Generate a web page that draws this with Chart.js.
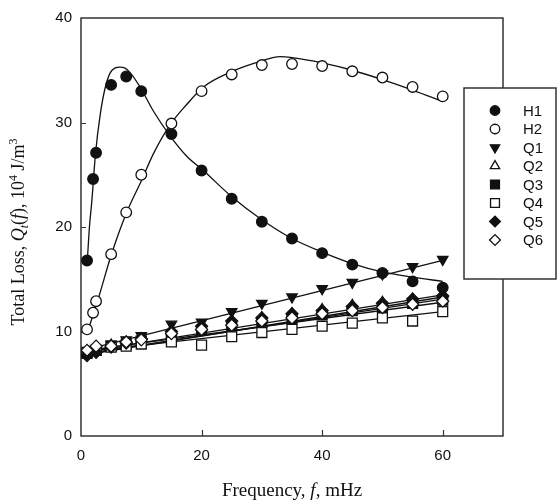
<!DOCTYPE html>
<html><head><meta charset="utf-8">
<script src="https://cdn.jsdelivr.net/npm/chart.js@4.4.1/dist/chart.umd.min.js"></script>
<style>html,body{margin:0;padding:0;background:#fff;}#wrap{width:560px;height:504px;}</style>
</head><body><div id="wrap"><canvas id="c" width="560" height="504"></canvas></div>
<script>
// ---- data ----
const seriesNames = ['H1', 'H2', 'Q1', 'Q2', 'Q3', 'Q4', 'Q5', 'Q6'];
const xTicks = [0, 20, 40, 60];
const yTicks = [0, 10, 20, 30, 40];

const hFreq = [1, 2, 2.5, 5, 7.5, 10, 15, 20, 25, 30, 35, 40, 45, 50, 55, 60];
const h1 = [16.8, 24.6, 27.1, 33.6, 34.4, 33.0, 28.9, 25.4, 22.7, 20.5, 18.9, 17.5, 16.4, 15.6, 14.8, 14.2];
const h2 = [10.2, 11.8, 12.9, 17.4, 21.4, 25.0, 29.9, 33.0, 34.6, 35.5, 35.6, 35.4, 34.9, 34.3, 33.4, 32.5];

const h1FitFreq = [1, 1.4, 1.8, 2.4, 3.2, 4, 4.8, 5.6, 6.5, 7.3, 8.1, 9.8, 12, 14.8, 17.5, 20.3, 25, 30, 35, 40, 45, 50, 55, 60];
const h1Fit = [16.3, 20.0, 22.5, 27.0, 30.8, 33.3, 34.7, 35.2, 35.3, 35.2, 34.8, 33.4, 31.1, 28.7, 26.8, 25.4, 22.9, 20.7, 18.9, 17.6, 16.5, 15.7, 15.2, 14.8];
const h2FitFreq = [1, 2, 3, 5, 7.5, 10, 12, 14.8, 17.5, 20.3, 24.7, 30, 33, 35, 40, 45, 50, 55, 60];
const h2Fit = [9.8, 11.6, 13.4, 17.3, 21.3, 24.4, 27.0, 29.8, 31.7, 33.4, 34.8, 35.9, 36.3, 36.2, 35.7, 35.0, 34.1, 33.1, 32.0];

const qFreq = [1, 2.5, 5, 7.5, 10, 15, 20, 25, 30, 35, 40, 45, 50, 55, 60];
const q1 = [8.0, 8.3, 8.8, 9.2, 9.6, 10.7, 10.9, 11.9, 12.7, 13.3, 14.1, 14.7, 15.5, 16.2, 16.9];
const q2 = [8.0, 8.3, 8.7, 9.0, 9.3, 10.0, 10.4, 10.9, 11.3, 11.7, 12.1, 12.5, 12.8, 13.1, 13.6];
const q3 = [7.9, 8.2, 8.6, 8.8, 9.1, 9.6, 10.1, 10.5, 10.9, 11.2, 11.6, 12.0, 12.3, 12.7, 13.0];
const q4 = [8.0, 8.2, 8.5, 8.6, 8.8, 9.0, 8.7, 9.5, 9.9, 10.2, 10.5, 10.8, 11.3, 11.0, 11.9];
const q5 = [7.7, 8.0, 8.5, 8.9, 9.3, 10.0, 10.5, 11.0, 11.3, 11.7, 12.0, 12.4, 12.7, 13.1, 13.4];
const q6 = [8.2, 8.6, 8.6, 9.0, 9.2, 9.8, 10.2, 10.6, 11.0, 11.3, 11.7, 12.0, 12.3, 12.6, 12.9];

const qFitFreq = [1, 60];
const q1Fit = [8.3, 16.8];
const q2Fit = [8.1, 13.5];
const q3Fit = [7.9, 13.1];
const q4Fit = [8.1, 11.9];
const q5Fit = [7.8, 13.3];
const q6Fit = [8.2, 12.8];

// ---- build ----
const pts = (xs, ys) => xs.map((x, i) => ({x: x, y: ys[i]}));
const INK = '#111';
const markerStyles = [
  {pointStyle: 'circle', radius: 5.3, rotation: 0, fill: INK},
  {pointStyle: 'circle', radius: 5.3, rotation: 0, fill: '#fff'},
  {pointStyle: 'triangle', radius: 6, rotation: 180, fill: INK},
  {pointStyle: 'triangle', radius: 6, rotation: 0, fill: '#fff'},
  {pointStyle: 'rect', radius: 7, rotation: 0, fill: INK},
  {pointStyle: 'rect', radius: 7, rotation: 0, fill: '#fff'},
  {pointStyle: 'rectRot', radius: 6, rotation: 0, fill: INK},
  {pointStyle: 'rectRot', radius: 6, rotation: 0, fill: '#fff'}
];
const markerData = [pts(hFreq, h1), pts(hFreq, h2), pts(qFreq, q1), pts(qFreq, q2), pts(qFreq, q3), pts(qFreq, q4), pts(qFreq, q5), pts(qFreq, q6)];
const fitData = [pts(h1FitFreq, h1Fit), pts(h2FitFreq, h2Fit), pts(qFitFreq, q1Fit), pts(qFitFreq, q2Fit), pts(qFitFreq, q3Fit), pts(qFitFreq, q4Fit), pts(qFitFreq, q5Fit), pts(qFitFreq, q6Fit)];

const datasets = [];
fitData.forEach((d, i) => {
  datasets.push({
    label: seriesNames[i] + ' fit', data: d, showLine: true, isFit: true,
    borderColor: INK, borderWidth: 1.3, pointRadius: 0, pointHoverRadius: 0,
    cubicInterpolationMode: i < 2 ? 'monotone' : 'default', tension: 0, order: 30
  });
});
markerData.forEach((d, i) => {
  const m = markerStyles[i];
  datasets.push({
    label: seriesNames[i], data: d, showLine: false, isFit: false, markerIndex: i,
    pointStyle: m.pointStyle, pointRadius: m.radius, pointRotation: m.rotation,
    pointBackgroundColor: m.fill, pointBorderColor: INK, pointBorderWidth: 1.3,
    pointHoverRadius: m.radius, order: 10 - i
  });
});

const framePlugin = {
  id: 'frame',
  beforeDatasetsDraw(chart) {
    const {ctx, chartArea: a, scales} = chart;
    ctx.save();
    ctx.strokeStyle = '#333';
    ctx.lineWidth = 1.5;
    ctx.strokeRect(a.left, a.top, a.right - a.left, a.bottom - a.top);
    ctx.lineWidth = 1.2;
    ctx.beginPath();
    yTicks.forEach(v => {
      const y = Math.round(scales.y.getPixelForValue(v)) + 0.5;
      if (v > 0 && v < 40) { ctx.moveTo(a.left, y); ctx.lineTo(a.left + 5, y); }
    });
    xTicks.forEach(v => {
      const x = Math.round(scales.x.getPixelForValue(v)) + 0.5;
      if (v > 0) { ctx.moveTo(x, a.bottom); ctx.lineTo(x, a.bottom - 6); }
    });
    ctx.stroke();
    ctx.restore();
  }
};

function drawRich(ctx, segs, cx, baseline) {
  let total = 0;
  segs.forEach(s => { ctx.font = s.font; s.w = ctx.measureText(s.t).width; total += s.w; });
  let x = cx - total / 2;
  segs.forEach(s => {
    ctx.font = s.font;
    ctx.fillText(s.t, x, baseline + (s.dy || 0));
    x += s.w;
  });
}

const titlePlugin = {
  id: 'titles',
  afterDraw(chart) {
    const {ctx, chartArea: a} = chart;
    ctx.save();
    ctx.fillStyle = INK;
    ctx.textBaseline = 'alphabetic';
    ctx.textAlign = 'left';
    const XN = '19px "Liberation Serif"', XI = 'italic 19px "Liberation Serif"';
    drawRich(ctx, [
      {t: 'Frequency, ', font: XN}, {t: 'f', font: XI}, {t: ', mHz', font: XN}
    ], (a.left + a.right) / 2, 496);
    const N = '18px "Liberation Serif"', I = 'italic 18px "Liberation Serif"', S = '12px "Liberation Serif"', SI = 'italic 12px "Liberation Serif"';
    ctx.translate(24, (a.top + a.bottom) / 2 + 5);
    ctx.rotate(-Math.PI / 2);
    drawRich(ctx, [
      {t: 'Total Loss, ', font: N}, {t: 'Q', font: I}, {t: 't', font: SI, dy: 4},
      {t: '(', font: N}, {t: 'f', font: I}, {t: '), 10', font: N}, {t: '4', font: S, dy: -7},
      {t: ' J/m', font: N}, {t: '3', font: S, dy: -7}
    ], 0, 0);
    ctx.restore();
  }
};

const legendPlugin = {
  id: 'boxLegend',
  afterDraw(chart) {
    const ctx = chart.ctx;
    const bx = 464, by = 88, bw = 92, bh = 191;
    ctx.save();
    ctx.fillStyle = '#fff';
    ctx.fillRect(bx, by, bw, bh);
    ctx.strokeStyle = '#333';
    ctx.lineWidth = 1.5;
    ctx.strokeRect(bx, by, bw, bh);
    const items = chart.data.datasets.filter(d => !d.isFit);
    items.forEach((d, k) => {
      const y = 110.5 + k * 18.5;
      const m = markerStyles[d.markerIndex];
      ctx.fillStyle = m.fill;
      ctx.strokeStyle = INK;
      ctx.lineWidth = 1.3;
      Chart.helpers.drawPoint(ctx, {pointStyle: m.pointStyle, radius: m.radius * 0.9, rotation: m.rotation, borderWidth: 1.3}, 495, y);
      ctx.fillStyle = INK;
      ctx.font = '15px "Liberation Sans"';
      ctx.textBaseline = 'middle';
      ctx.textAlign = 'left';
      ctx.fillText(d.label, 523, y + 1);
    });
    ctx.restore();
  }
};

new Chart(document.getElementById('c'), {
  type: 'scatter',
  data: {datasets: datasets},
  options: {
    responsive: false, animation: false,
    layout: {padding: {left: 0, right: 57, top: 12, bottom: 0}},
    plugins: {legend: {display: false}, tooltip: {enabled: false}},
    scales: {
      x: {
        type: 'linear', min: 0, max: 70,
        grid: {display: false, drawTicks: false}, border: {display: false},
        ticks: {stepSize: 20, padding: 11, color: INK, font: {family: 'Liberation Sans', size: 15}},
        afterBuildTicks: s => { s.ticks = xTicks.map(v => ({value: v})); },
        afterFit: s => { s.height = 68; }
      },
      y: {
        type: 'linear', min: 0, max: 40,
        grid: {display: false, drawTicks: false}, border: {display: false},
        ticks: {stepSize: 10, padding: 9, color: INK, font: {family: 'Liberation Sans', size: 15}},
        afterBuildTicks: s => { s.ticks = yTicks.map(v => ({value: v})); },
        afterFit: s => { s.width = 81; }
      }
    }
  },
  plugins: [framePlugin, titlePlugin, legendPlugin]
});
</script>
</body></html>
